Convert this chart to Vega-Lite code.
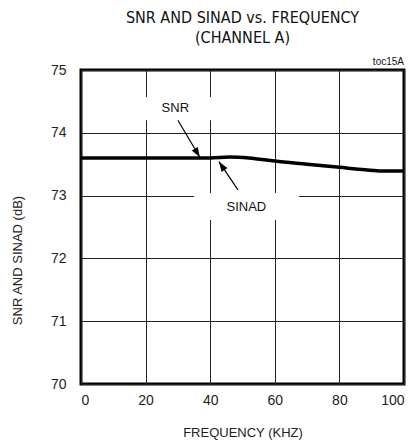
{
  "$schema": "https://vega.github.io/schema/vega-lite/v6.json",
  "width": 323,
  "height": 314,
  "autosize": "none",
  "padding": {"left": 81, "top": 70, "right": 10, "bottom": 62},
  "background": "white",
  "title": {
    "text": ["SNR AND SINAD vs. FREQUENCY", "(CHANNEL A)"],
    "font": "'Liberation Sans Narrow', 'DejaVu Sans Condensed', 'Liberation Sans', sans-serif",
    "fontSize": 16,
    "fontWeight": "normal",
    "color": "#111",
    "anchor": "middle",
    "lineHeight": 20,
    "offset": 11
  },
  "config": {
    "view": {"stroke": "#000", "strokeWidth": 3},
    "axis": {
      "domain": false,
      "ticks": false,
      "grid": true,
      "gridColor": "#222",
      "gridWidth": 1,
      "gridOpacity": 1,
      "labelFont": "Liberation Sans",
      "labelFontSize": 14,
      "labelColor": "#222",
      "titleFont": "Liberation Sans",
      "titleFontSize": 13,
      "titleFontWeight": "normal",
      "titleColor": "#222"
    }
  },
  "datasets": {
    "curve": [
      {"f": 0, "db": 73.6},
      {"f": 20, "db": 73.6},
      {"f": 40, "db": 73.6},
      {"f": 46, "db": 73.615},
      {"f": 52, "db": 73.6},
      {"f": 60, "db": 73.55},
      {"f": 70, "db": 73.5},
      {"f": 80, "db": 73.45},
      {"f": 88, "db": 73.41},
      {"f": 93, "db": 73.39},
      {"f": 100, "db": 73.39}
    ],
    "boxes": [
      {"x1": 18, "x2": 42, "y1": 74.2, "y2": 74.57},
      {"x1": 35, "x2": 67.5, "y1": 72.61, "y2": 73.04}
    ],
    "labels": [
      {"f": 29.2, "db": 74.39, "label": "SNR"},
      {"f": 51.2, "db": 72.82, "label": "SINAD"}
    ],
    "arrows": [
      {"f1": 30, "db1": 74.2, "f2": 36.8, "db2": 73.61, "angle": 149},
      {"f1": 48.6, "db1": 73.09, "f2": 42.7, "db2": 73.54, "angle": 326}
    ],
    "note": [{"f": 100, "db": 75, "label": "toc15A"}]
  },
  "layer": [
    {
      "data": {"name": "boxes"},
      "mark": {"type": "rect", "fill": "white", "stroke": null},
      "encoding": {
        "x": {"field": "x1", "type": "quantitative", "scale": {"domain": [0, 100]},
          "axis": {"values": [0, 20, 40, 60, 80, 100], "format": "d", "title": "FREQUENCY (KHZ)", "labelPadding": 9, "titleY": 48, "titleBaseline": "middle"}},
        "x2": {"field": "x2"},
        "y": {"field": "y1", "type": "quantitative", "scale": {"domain": [70, 75]},
          "axis": {"values": [70, 71, 72, 73, 74, 75], "format": "d", "title": "SNR AND SINAD (dB)", "labelPadding": 15, "titleX": -64, "titleY": 190, "titleAngle": -90, "titleAlign": "center", "titleBaseline": "middle"}},
        "y2": {"field": "y2"}
      }
    },
    {
      "data": {"name": "curve"},
      "mark": {"type": "line", "color": "#000", "strokeWidth": 3.5, "interpolate": "monotone"},
      "encoding": {
        "x": {"field": "f", "type": "quantitative"},
        "y": {"field": "db", "type": "quantitative"}
      }
    },
    {
      "data": {"name": "arrows"},
      "mark": {"type": "rule", "color": "#000", "strokeWidth": 1.2},
      "encoding": {
        "x": {"field": "f1", "type": "quantitative"},
        "y": {"field": "db1", "type": "quantitative"},
        "x2": {"field": "f2"},
        "y2": {"field": "db2"}
      }
    },
    {
      "data": {"name": "arrows"},
      "mark": {"type": "point", "shape": "M0,0L-0.7,2L0.7,2Z", "filled": true, "color": "#000", "opacity": 1, "size": 100},
      "encoding": {
        "x": {"field": "f2", "type": "quantitative"},
        "y": {"field": "db2", "type": "quantitative"},
        "angle": {"field": "angle", "type": "quantitative", "scale": null}
      }
    },
    {
      "data": {"name": "labels"},
      "mark": {"type": "text", "font": "Liberation Sans", "fontSize": 13, "color": "#111", "align": "center", "baseline": "middle"},
      "encoding": {
        "x": {"field": "f", "type": "quantitative"},
        "y": {"field": "db", "type": "quantitative"},
        "text": {"field": "label"}
      }
    },
    {
      "data": {"name": "note"},
      "mark": {"type": "text", "font": "Liberation Sans", "fontSize": 10, "color": "#111", "align": "right", "baseline": "bottom", "dy": -3},
      "encoding": {
        "x": {"field": "f", "type": "quantitative"},
        "y": {"field": "db", "type": "quantitative"},
        "text": {"field": "label"}
      }
    }
  ]
}
